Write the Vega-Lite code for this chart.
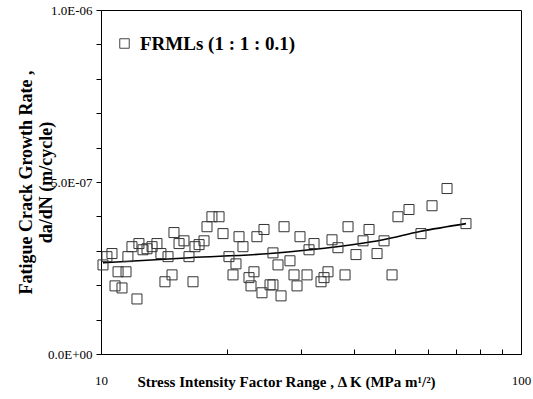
{
  "$schema": "https://vega.github.io/schema/vega-lite/v6.json",
  "autosize": "none",
  "padding": {"left": 101, "top": 10, "right": 12, "bottom": 45},
  "width": 420,
  "height": 344,
  "config": {
    "view": {"stroke": "black", "strokeWidth": 1},
    "font": "Liberation Serif"
  },
  "datasets": {
    "pts": [
      {"dK": 10.11, "rate": 2.59e-7, "series": "FRMLs (1 : 1 : 0.1)"},
      {"dK": 10.33, "rate": 2.83e-7, "series": "FRMLs (1 : 1 : 0.1)"},
      {"dK": 10.62, "rate": 2.92e-7, "series": "FRMLs (1 : 1 : 0.1)"},
      {"dK": 10.98, "rate": 2.39e-7, "series": "FRMLs (1 : 1 : 0.1)"},
      {"dK": 11.47, "rate": 2.39e-7, "series": "FRMLs (1 : 1 : 0.1)"},
      {"dK": 10.80, "rate": 1.98e-7, "series": "FRMLs (1 : 1 : 0.1)"},
      {"dK": 11.22, "rate": 1.92e-7, "series": "FRMLs (1 : 1 : 0.1)"},
      {"dK": 12.18, "rate": 1.60e-7, "series": "FRMLs (1 : 1 : 0.1)"},
      {"dK": 11.59, "rate": 2.83e-7, "series": "FRMLs (1 : 1 : 0.1)"},
      {"dK": 11.85, "rate": 3.12e-7, "series": "FRMLs (1 : 1 : 0.1)"},
      {"dK": 12.31, "rate": 3.21e-7, "series": "FRMLs (1 : 1 : 0.1)"},
      {"dK": 12.59, "rate": 3.03e-7, "series": "FRMLs (1 : 1 : 0.1)"},
      {"dK": 12.87, "rate": 3.06e-7, "series": "FRMLs (1 : 1 : 0.1)"},
      {"dK": 13.23, "rate": 3.12e-7, "series": "FRMLs (1 : 1 : 0.1)"},
      {"dK": 13.59, "rate": 3.21e-7, "series": "FRMLs (1 : 1 : 0.1)"},
      {"dK": 13.89, "rate": 2.92e-7, "series": "FRMLs (1 : 1 : 0.1)"},
      {"dK": 14.44, "rate": 2.83e-7, "series": "FRMLs (1 : 1 : 0.1)"},
      {"dK": 14.20, "rate": 2.10e-7, "series": "FRMLs (1 : 1 : 0.1)"},
      {"dK": 14.76, "rate": 2.30e-7, "series": "FRMLs (1 : 1 : 0.1)"},
      {"dK": 14.92, "rate": 3.53e-7, "series": "FRMLs (1 : 1 : 0.1)"},
      {"dK": 15.34, "rate": 3.21e-7, "series": "FRMLs (1 : 1 : 0.1)"},
      {"dK": 15.76, "rate": 3.29e-7, "series": "FRMLs (1 : 1 : 0.1)"},
      {"dK": 16.56, "rate": 2.10e-7, "series": "FRMLs (1 : 1 : 0.1)"},
      {"dK": 16.20, "rate": 2.83e-7, "series": "FRMLs (1 : 1 : 0.1)"},
      {"dK": 16.74, "rate": 3.12e-7, "series": "FRMLs (1 : 1 : 0.1)"},
      {"dK": 17.12, "rate": 3.18e-7, "series": "FRMLs (1 : 1 : 0.1)"},
      {"dK": 17.59, "rate": 3.29e-7, "series": "FRMLs (1 : 1 : 0.1)"},
      {"dK": 17.88, "rate": 3.70e-7, "series": "FRMLs (1 : 1 : 0.1)"},
      {"dK": 18.37, "rate": 3.99e-7, "series": "FRMLs (1 : 1 : 0.1)"},
      {"dK": 19.10, "rate": 3.99e-7, "series": "FRMLs (1 : 1 : 0.1)"},
      {"dK": 19.52, "rate": 3.50e-7, "series": "FRMLs (1 : 1 : 0.1)"},
      {"dK": 20.17, "rate": 2.83e-7, "series": "FRMLs (1 : 1 : 0.1)"},
      {"dK": 20.96, "rate": 2.62e-7, "series": "FRMLs (1 : 1 : 0.1)"},
      {"dK": 21.31, "rate": 3.41e-7, "series": "FRMLs (1 : 1 : 0.1)"},
      {"dK": 21.78, "rate": 3.12e-7, "series": "FRMLs (1 : 1 : 0.1)"},
      {"dK": 20.62, "rate": 2.30e-7, "series": "FRMLs (1 : 1 : 0.1)"},
      {"dK": 22.51, "rate": 2.22e-7, "series": "FRMLs (1 : 1 : 0.1)"},
      {"dK": 23.13, "rate": 2.39e-7, "series": "FRMLs (1 : 1 : 0.1)"},
      {"dK": 22.76, "rate": 1.98e-7, "series": "FRMLs (1 : 1 : 0.1)"},
      {"dK": 24.17, "rate": 1.78e-7, "series": "FRMLs (1 : 1 : 0.1)"},
      {"dK": 25.26, "rate": 2.01e-7, "series": "FRMLs (1 : 1 : 0.1)"},
      {"dK": 26.83, "rate": 1.69e-7, "series": "FRMLs (1 : 1 : 0.1)"},
      {"dK": 23.51, "rate": 3.41e-7, "series": "FRMLs (1 : 1 : 0.1)"},
      {"dK": 24.44, "rate": 3.62e-7, "series": "FRMLs (1 : 1 : 0.1)"},
      {"dK": 25.67, "rate": 2.94e-7, "series": "FRMLs (1 : 1 : 0.1)"},
      {"dK": 26.39, "rate": 2.59e-7, "series": "FRMLs (1 : 1 : 0.1)"},
      {"dK": 27.28, "rate": 3.70e-7, "series": "FRMLs (1 : 1 : 0.1)"},
      {"dK": 28.18, "rate": 2.71e-7, "series": "FRMLs (1 : 1 : 0.1)"},
      {"dK": 28.81, "rate": 2.30e-7, "series": "FRMLs (1 : 1 : 0.1)"},
      {"dK": 29.29, "rate": 1.98e-7, "series": "FRMLs (1 : 1 : 0.1)"},
      {"dK": 25.67, "rate": 2.01e-7, "series": "FRMLs (1 : 1 : 0.1)"},
      {"dK": 29.77, "rate": 3.41e-7, "series": "FRMLs (1 : 1 : 0.1)"},
      {"dK": 30.94, "rate": 2.30e-7, "series": "FRMLs (1 : 1 : 0.1)"},
      {"dK": 31.28, "rate": 3.03e-7, "series": "FRMLs (1 : 1 : 0.1)"},
      {"dK": 32.15, "rate": 3.21e-7, "series": "FRMLs (1 : 1 : 0.1)"},
      {"dK": 33.41, "rate": 2.10e-7, "series": "FRMLs (1 : 1 : 0.1)"},
      {"dK": 33.96, "rate": 2.22e-7, "series": "FRMLs (1 : 1 : 0.1)"},
      {"dK": 34.71, "rate": 2.39e-7, "series": "FRMLs (1 : 1 : 0.1)"},
      {"dK": 35.48, "rate": 3.32e-7, "series": "FRMLs (1 : 1 : 0.1)"},
      {"dK": 36.66, "rate": 3.09e-7, "series": "FRMLs (1 : 1 : 0.1)"},
      {"dK": 38.11, "rate": 2.30e-7, "series": "FRMLs (1 : 1 : 0.1)"},
      {"dK": 38.74, "rate": 3.70e-7, "series": "FRMLs (1 : 1 : 0.1)"},
      {"dK": 40.47, "rate": 2.89e-7, "series": "FRMLs (1 : 1 : 0.1)"},
      {"dK": 42.06, "rate": 3.29e-7, "series": "FRMLs (1 : 1 : 0.1)"},
      {"dK": 43.47, "rate": 3.62e-7, "series": "FRMLs (1 : 1 : 0.1)"},
      {"dK": 45.42, "rate": 2.92e-7, "series": "FRMLs (1 : 1 : 0.1)"},
      {"dK": 47.20, "rate": 3.29e-7, "series": "FRMLs (1 : 1 : 0.1)"},
      {"dK": 49.31, "rate": 2.30e-7, "series": "FRMLs (1 : 1 : 0.1)"},
      {"dK": 50.94, "rate": 3.99e-7, "series": "FRMLs (1 : 1 : 0.1)"},
      {"dK": 54.12, "rate": 4.20e-7, "series": "FRMLs (1 : 1 : 0.1)"},
      {"dK": 57.79, "rate": 3.50e-7, "series": "FRMLs (1 : 1 : 0.1)"},
      {"dK": 61.40, "rate": 4.31e-7, "series": "FRMLs (1 : 1 : 0.1)"},
      {"dK": 66.66, "rate": 4.81e-7, "series": "FRMLs (1 : 1 : 0.1)"},
      {"dK": 73.96, "rate": 3.79e-7, "series": "FRMLs (1 : 1 : 0.1)"}
    ],
    "fit": [
      {"dK": 10.11, "rate": 2.65e-7},
      {"dK": 16.29, "rate": 2.80e-7},
      {"dK": 25.26, "rate": 2.92e-7},
      {"dK": 31.45, "rate": 3.03e-7},
      {"dK": 46.94, "rate": 3.32e-7},
      {"dK": 57.47, "rate": 3.56e-7},
      {"dK": 73.96, "rate": 3.79e-7}
    ]
  },
  "layer": [
    {
      "data": {"name": "fit"},
      "mark": {"type": "line", "color": "black", "strokeWidth": 1.6, "interpolate": "monotone"},
      "encoding": {
        "x": {"field": "dK", "type": "quantitative"},
        "y": {"field": "rate", "type": "quantitative"}
      }
    },
    {
      "data": {"name": "pts"},
      "mark": {"type": "point", "shape": "square", "filled": false, "size": 100, "strokeWidth": 1, "opacity": 1},
      "encoding": {
        "x": {
          "field": "dK", "type": "quantitative",
          "scale": {"type": "log", "domain": [10, 100], "nice": false},
          "axis": {
            "values": [10, 20, 30, 40, 50, 60, 70, 80, 90, 100],
            "tickCount": 30,
            "labelExpr": "datum.value == 10 || datum.value == 100 ? datum.label : ''",
            "format": "d", "labelFlush": false, "labelOverlap": false,
            "grid": false, "domainColor": "black", "tickColor": "black",
            "tickSize": -5, "labelPadding": 25,
            "labelFont": "Liberation Serif", "labelFontSize": 13, "labelColor": "black",
            "title": "Stress Intensity Factor Range , Δ K (MPa m¹/²)",
            "titleFont": "Liberation Serif", "titleFontSize": 15, "titleFontWeight": "bold", "titleColor": "black",
            "titleX": 185, "titleY": 27, "titleAlign": "center", "titleBaseline": "middle"
          }
        },
        "y": {
          "field": "rate", "type": "quantitative",
          "scale": {"domain": [0, 1e-6], "nice": false},
          "axis": {
            "values": [0, 1e-7, 2e-7, 3e-7, 4e-7, 5e-7, 6e-7, 7e-7, 8e-7, 9e-7, 1e-6],
            "tickCount": 30,
            "labelExpr": "round(datum.value * 10000000) == 0 ? '0.0E+00' : round(datum.value * 10000000) == 5 ? '5.0E-07' : round(datum.value * 10000000) == 10 ? '1.0E-06' : ''",
            "labelOverlap": false, "labelFlush": false,
            "grid": false, "domainColor": "black", "tickColor": "black",
            "tickSize": 5, "labelPadding": 4,
            "labelFont": "Liberation Serif", "labelFontSize": 13, "labelColor": "black",
            "title": ["Fatigue Crack Growth Rate ,", "da/dN (m/cycle)"],
            "titleFont": "Liberation Serif", "titleFontSize": 18, "titleFontWeight": "bold", "titleColor": "black",
            "titleLineHeight": 20, "titleX": -84, "titleY": 172, "titleBaseline": "top", "titleAlign": "center", "titleAngle": -90
          }
        },
        "shape": {
          "field": "series", "type": "nominal",
          "scale": {"range": ["square"]},
          "legend": {
            "orient": "none", "legendX": 14, "legendY": 24, "title": null,
            "symbolSize": 90, "symbolFillColor": "white",
            "symbolStrokeColor": "#444", "symbolStrokeWidth": 1,
            "labelFont": "Liberation Serif", "labelFontSize": 19, "labelFontWeight": "bold", "labelColor": "black",
            "labelOffset": 6
          }
        },
        "color": {"value": "#333"}
      }
    }
  ]
}
